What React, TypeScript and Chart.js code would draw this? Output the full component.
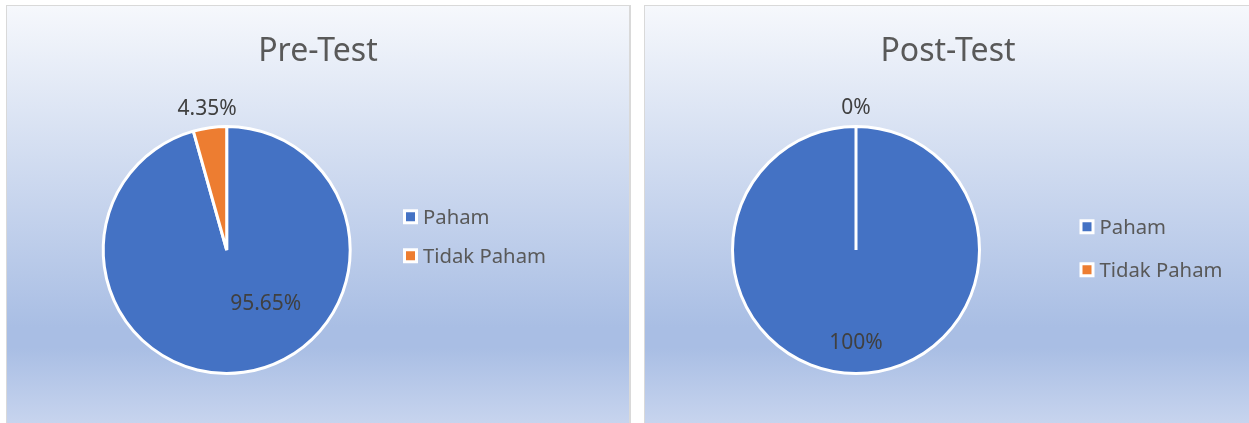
import React, { useEffect, useRef } from "react";
import { Chart, registerables } from "chart.js";

Chart.register(...registerables);

// ---- data ----
const categories = ["Paham", "Tidak Paham"];
const preTestValues = [95.65, 4.35];
const postTestValues = [100, 0];
const sliceColors = ["#4472C4", "#ED7D31"];
const chartTitles = ["Pre-Test", "Post-Test"];

const FONT = '"Noto Sans", "Open Sans", sans-serif';
const TITLE_SIZE = 32;
const LABEL_SIZE = 21;
const LEGEND_SIZE = 20.3;
const CAP = 0.714;

type PanelCfg = {
  title: string;
  values: number[];
  left: number;
  top: number;
  width: number;
  height: number;
  rightBorder: boolean;
  cx: number;
  cy: number;
  radius: number;
  titleX: number;
  titleBaseline: number;
  labelAngles: (number | null)[];
  labelDist: number[];
  legendBoxX: number;
  legendBaselines: number[];
};

const panels: PanelCfg[] = [
  {
    title: chartTitles[0],
    values: preTestValues,
    left: 6,
    top: 5,
    width: 625,
    height: 418,
    rightBorder: true,
    cx: 220.7,
    cy: 245,
    radius: 123.5,
    titleX: 312,
    titleBaseline: 56,
    labelAngles: [143.4, null],
    labelDist: [0.53, 1.168],
    legendBoxX: 404.5,
    legendBaselines: [219, 258],
  },
  {
    title: chartTitles[1],
    values: postTestValues,
    left: 644,
    top: 5,
    width: 605,
    height: 418,
    rightBorder: false,
    cx: 212,
    cy: 245,
    radius: 123.5,
    titleX: 304,
    titleBaseline: 56,
    labelAngles: [null, null],
    labelDist: [0.737, 1.16],
    legendBoxX: 443,
    legendBaselines: [229, 272],
  },
];

const fmt = (v: number) => `${v}%`;

const overlayPlugin = {
  id: "overlay",
  afterDatasetsDraw(chart: any, _args: any, opts: any) {
    const ctx: CanvasRenderingContext2D = chart.ctx;
    const cfg: PanelCfg = opts.cfg;
    const meta = chart.getDatasetMeta(0);
    ctx.save();
    // title
    ctx.font = `${TITLE_SIZE}px ${FONT}`;
    ctx.fillStyle = "#595959";
    ctx.textAlign = "center";
    ctx.textBaseline = "alphabetic";
    ctx.fillText(cfg.title, cfg.titleX, cfg.titleBaseline);

    // data labels
    ctx.font = `${LABEL_SIZE}px ${FONT}`;
    ctx.fillStyle = "#404040";
    meta.data.forEach((arc: any, i: number) => {
      const p = arc.getProps(["x", "y", "startAngle", "endAngle", "outerRadius"], true);
      const ang =
        cfg.labelAngles[i] != null
          ? ((cfg.labelAngles[i] as number) - 90) * (Math.PI / 180)
          : (p.startAngle + p.endAngle) / 2;
      const d = cfg.labelDist[i] * p.outerRadius;
      const lx = p.x + Math.cos(ang) * d;
      const ly = p.y + Math.sin(ang) * d;
      ctx.fillText(fmt(cfg.values[i]), lx, ly + (LABEL_SIZE * CAP) / 2);
    });

    // legend
    ctx.font = `${LEGEND_SIZE}px ${FONT}`;
    ctx.textAlign = "left";
    categories.forEach((name, i) => {
      const base = cfg.legendBaselines[i];
      const cyBox = base - (LEGEND_SIZE * CAP) / 2;
      const bx = cfg.legendBoxX;
      ctx.fillStyle = "#ffffff";
      ctx.fillRect(bx - 7.5, cyBox - 7.5, 15, 15);
      ctx.fillStyle = sliceColors[i];
      ctx.fillRect(bx - 4.5, cyBox - 4.5, 9, 9);
      ctx.fillStyle = "#595959";
      ctx.fillText(name, bx + 12.5, base);
    });
    ctx.restore();
  },
};

function PiePanel({ cfg }: { cfg: PanelCfg }) {
  const ref = useRef<HTMLCanvasElement | null>(null);
  useEffect(() => {
    if (!ref.current) return;
    const W = cfg.width;
    const H = cfg.height;
    const padding = {
      left: 2 * cfg.cx > W ? 2 * cfg.cx - W : 0,
      right: 2 * cfg.cx < W ? W - 2 * cfg.cx : 0,
      top: 2 * cfg.cy > H ? 2 * cfg.cy - H : 0,
      bottom: 2 * cfg.cy < H ? H - 2 * cfg.cy : 0,
    };
    const chart = new Chart(ref.current, {
      type: "pie",
      data: {
        labels: categories,
        datasets: [
          {
            data: cfg.values,
            backgroundColor: sliceColors,
            borderColor: "#ffffff",
            borderWidth: 3,
            radius: cfg.radius,
          } as any,
        ],
      },
      options: {
        animation: false,
        responsive: false,
        events: [],
        layout: { padding },
        plugins: {
          legend: { display: false },
          title: { display: false },
          tooltip: { enabled: false },
          overlay: { cfg },
        } as any,
      },
      plugins: [overlayPlugin as any],
    });
    return () => chart.destroy();
  }, [cfg]);

  return (
    <div
      style={{
        position: "absolute",
        left: cfg.left,
        top: cfg.top,
        width: cfg.width,
        height: cfg.height,
        boxSizing: "border-box",
        borderTop: "1px solid #d9d9d9",
        borderLeft: "1px solid #d9d9d9",
        borderRight: cfg.rightBorder ? "2px solid #d9d9d9" : "none",
        background:
          "linear-gradient(to bottom, #f6f8fc 0%, #a9bee4 77%, #a9bee4 82%, #c7d4ee 100%)",
        overflow: "hidden",
      }}
    >
      <canvas
        ref={ref}
        width={cfg.width}
        height={cfg.height}
        style={{ position: "absolute", left: -1, top: -1, width: cfg.width, height: cfg.height }}
      />
    </div>
  );
}

export default function App() {
  return (
    <div>
      {panels.map((p) => (
        <PiePanel key={p.title} cfg={p} />
      ))}
    </div>
  );
}
